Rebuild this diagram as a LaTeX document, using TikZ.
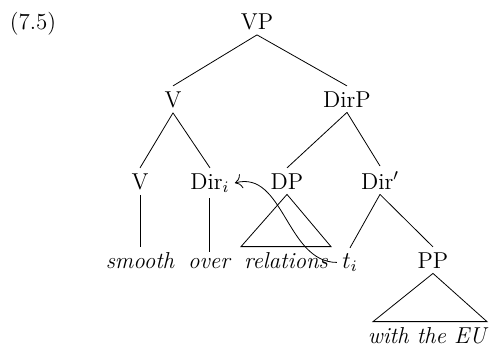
\documentclass[tikz,border=0pt]{standalone}
\usetikzlibrary{positioning, arrows.meta, calc}

\begin{document}
\begin{tikzpicture}[
        x=0.5pt, y=-0.5pt,
        every node/.style={font=\fontsize{11.5}{13}\selectfont, inner sep=2.5pt},
        cat/.style={anchor=base},
        leaf/.style={anchor=base, font=\fontsize{11.5}{13}\selectfont\itshape}
    ]
    \useasboundingbox (0,0) rectangle (489,349);

    % Beispielnummer
    \node[cat] (exnum) at (33,29) {(7.5)};

    % Obere Ebenen
    \node[cat] (vp) at (257,29) {VP};
    \node[cat] (vbar) at (173,107) {V};
    \node[cat] (dirp) at (347,107) {DirP};

    % Mittlere Ebene
    \node[cat] (verb) at (140,189) {V};
    \node[cat] (dir) at (210,189) {Dir$_i$};
    \node[cat] (dp) at (287,189) {DP};
    \node[cat] (dirbar) at (380,189) {Dir$'$};

    % Blaetter
    \node[leaf] (smooth) at (140,268) {smooth};
    \node[leaf] (over) at (209,268) {over};
    \node[leaf] (relations) at (286,268) {relations};
    \node[cat] (trace) at (350,268) {$t_i$};
    \node[cat] (pp) at (433,268) {PP};
    \node[leaf] (witheu) at (427,343) {with the EU};

    % Aeste
    \draw (vp.south) -- (vbar.north);
    \draw (vp.south) -- (dirp.north);
    \draw (vbar.south) -- (verb.north);
    \draw (vbar.south) -- (dir.north);
    \draw (dirp.south) -- (dp.north);
    \draw (dirp.south) -- (dirbar.north);
    \draw (verb.south) -- (smooth.north);
    \draw (dir.south -| over) -- (over.north);
    \draw (dirbar.south) -- (trace.north);
    \draw (dirbar.south) -- (pp.north);

    % Dreiecke
    \draw (dp.south) -- ($(relations.north)+(-45,0)$) -- ($(relations.north)+(45,0)$) -- cycle;
    \draw (pp.south) -- ($(witheu.north)+(-54,0)$) -- ($(witheu.north)+(60,0)$) -- cycle;

    % Bewegung
    \draw[-{To[scale=1.4]}] (trace.west) to[out=180, in=15] (dir.east);

\end{tikzpicture}
\end{document}
